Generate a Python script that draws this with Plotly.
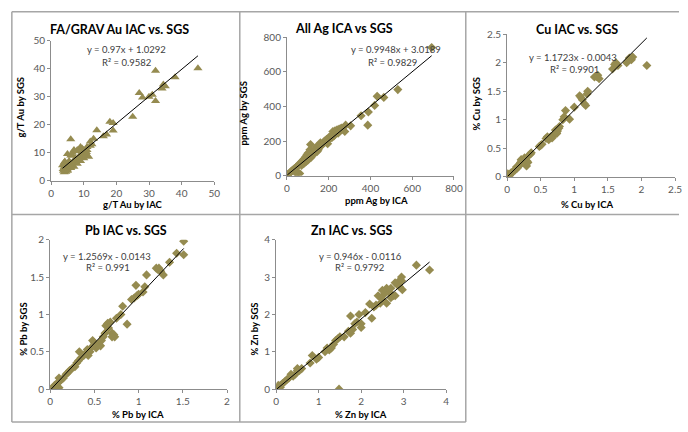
import plotly.graph_objects as go

W, H = 688, 432

# ---------------- data ----------------
au_x = [45, 38, 32, 32, 34, 34.4, 35, 31, 30, 27, 28, 25, 18, 19, 19, 16, 17, 14, 12, 13, 6,
        4, 4, 4, 3.8, 4.5, 5, 5, 5.5, 6, 6, 6.5, 7, 7, 7.5, 8, 8, 8.5, 9, 9, 9.5, 10, 10, 10.5,
        11, 11, 11.5, 10.8, 9.5, 8, 7, 6.5, 5.5, 4.5, 5, 3.7, 6, 7.5, 8.5, 9, 10, 11, 12, 12.5,
        4, 5, 6, 3.5, 4.2]
au_y = [40.2, 37, 39.3, 28.5, 33, 34.4, 33.8, 30.7, 30, 31.4, 29.8, 22.9, 21.1, 20.6, 17.9, 15.9,
        16.5, 18, 14, 15, 14.8,
        4, 5, 6.5, 3.5, 3.2, 4, 9.5, 5, 9, 6, 10, 7, 5, 8, 10.5, 6, 7.5, 12, 9, 10, 11, 8, 10,
        9, 12, 8.5, 10.2, 11.5, 11, 11, 9, 7, 4.5, 5.5, 4.2, 4.5, 6.5, 8.5, 7, 9, 11, 12.5, 13,
        3, 3.5, 5, 5.5, 6.8]

ag_x = [693, 531, 464, 432, 420, 390, 387, 355, 305, 281, 277, 250, 240, 230, 220, 260, 210, 200,
        180, 160, 150, 140, 113, 110, 100, 95, 90, 85, 80, 75, 70, 60, 55, 50, 45, 40, 35, 30, 25,
        20, 15, 10, 5, 2, 61, 50, 40, 130, 125, 115, 105, 170, 190, 195, 225, 235, 245, 255, 265,
        150, 110, 100, 90, 80, 70, 120, 135, 145, 165, 205, 215]
ag_y = [740, 497, 452, 458, 406, 368, 292, 346, 288, 292, 255, 270, 265, 260, 255, 275, 230, 220,
        200, 190, 170, 165, 180, 150, 130, 120, 110, 100, 95, 85, 80, 70, 60, 55, 50, 45, 40, 35, 30,
        25, 18, 12, 8, 3, 13, 15, 20, 140, 120, 105, 100, 180, 210, 185, 230, 250, 245, 260, 270,
        150, 130, 90, 80, 70, 60, 125, 150, 140, 175, 215, 220]

cu_x = [2.08, 1.87, 1.85, 1.8, 1.78, 1.82, 1.62, 1.6, 1.65, 1.57, 1.35, 1.3, 1.37, 1.33, 1.2, 1.19,
        1.1, 1.08, 1.12, 1.15, 1.17, 1.0, 0.93, 0.87, 0.85, 0.83, 0.78, 0.77, 0.75, 0.73, 0.7, 0.68,
        0.65, 0.63, 0.6, 0.62, 0.58, 0.67, 0.72, 0.74, 0.5, 0.48, 0.52, 0.35, 0.36, 0.33, 0.3, 0.29,
        0.31, 0.25, 0.22, 0.2, 0.18, 0.17, 0.15, 0.12, 0.1, 0.08, 0.05, 0.03, 0.02, 0.01, 0.04, 0.06,
        0.14, 0.19, 0.21, 0.26, 0.27]
cu_y = [1.95, 2.1, 2.05, 2.03, 2.0, 2.08, 2.0, 1.97, 1.95, 1.89, 1.78, 1.75, 1.72, 1.76, 1.5, 1.45,
        1.39, 1.42, 1.35, 1.28, 1.25, 1.22, 1.01, 1.16, 1.05, 1.0, 0.88, 0.85, 0.8, 0.78, 0.75, 0.72,
        0.7, 0.68, 0.7, 0.65, 0.67, 0.68, 0.82, 0.76, 0.55, 0.53, 0.57, 0.4, 0.42, 0.38, 0.27, 0.19,
        0.25, 0.3, 0.28, 0.25, 0.2, 0.18, 0.15, 0.12, 0.1, 0.08, 0.05, 0.03, 0.01, 0.05, 0.02, 0.07,
        0.17, 0.22, 0.3, 0.33, 0.3]

pb_x = [1.51, 1.51, 1.43, 1.35, 1.28, 1.23, 1.22, 1.25, 1.2, 1.09, 1.07, 1.05, 1.0, 0.98, 0.97,
        0.95, 0.92, 0.87, 0.82, 0.8, 0.75, 0.72, 0.73, 0.7, 0.68, 0.65, 0.63, 0.66, 0.6, 0.62, 0.58,
        0.55, 0.57, 0.52, 0.5, 0.48, 0.45, 0.43, 0.4, 0.38, 0.35, 0.33, 0.32, 0.3, 0.28, 0.25, 0.22,
        0.2, 0.18, 0.15, 0.12, 0.1, 0.1, 0.08, 0.05, 0.03, 0.01, 0.1, 0.06, 0.7, 0.53, 0.46, 0.42]
pb_y = [1.98, 1.8, 1.82, 1.7, 1.53, 1.62, 1.6, 1.58, 1.62, 1.53, 1.37, 1.3, 1.27, 1.25, 1.39,
        1.22, 1.2, 0.87, 1.11, 1.0, 0.95, 0.73, 0.7, 0.75, 0.9, 0.88, 0.85, 0.82, 0.7, 0.75, 0.65,
        0.6, 0.58, 0.55, 0.62, 0.65, 0.5, 0.45, 0.48, 0.45, 0.42, 0.5, 0.38, 0.35, 0.3, 0.28, 0.25,
        0.22, 0.2, 0.15, 0.12, 0.1, 0.15, 0.08, 0.05, 0.02, 0.0, 0.02, 0.04, 0.7, 0.58, 0.55, 0.53]

zn_x = [3.3, 3.61, 2.95, 2.97, 2.9, 2.85, 2.8, 2.75, 2.7, 2.65, 2.6, 2.55, 2.5, 2.45, 2.4, 2.35,
        2.3, 2.6, 2.5, 2.7, 2.8, 2.9, 2.95, 2.25, 2.2, 2.1, 2.0, 2.0, 1.95, 1.9, 1.85, 1.8, 1.75,
        1.75, 1.7, 1.6, 1.5, 1.45, 1.4, 1.35, 1.3, 1.25, 1.2, 1.15, 1.48, 1.0, 0.95, 0.85, 0.8, 0.6,
        0.5, 0.45, 0.4, 0.35, 0.3, 0.25, 0.2, 0.15, 0.1, 0.05, 0.02, 0.1, 0.05, 0.5, 0.55]
zn_y = [3.32, 3.19, 3.0, 2.66, 2.9, 2.8, 2.85, 2.5, 2.45, 2.6, 2.7, 2.55, 2.4, 2.3, 2.5, 2.25,
        2.2, 2.3, 2.65, 2.7, 2.5, 2.75, 2.9, 1.9, 2.28, 2.05, 1.75, 1.65, 2.0, 1.8, 1.75, 1.6, 1.96,
        1.5, 1.55, 1.4, 1.4, 1.35, 1.3, 1.2, 1.1, 1.05, 1.1, 1.0, 0.0, 0.85, 0.8, 0.9, 0.7, 0.55,
        0.5, 0.4, 0.35, 0.4, 0.3, 0.25, 0.2, 0.15, 0.1, 0.05, 0.02, 0.05, 0.1, 0.55, 0.5]

titles = ["FA/GRAV Au IAC vs. SGS", "All Ag ICA vs SGS", "Cu IAC vs. SGS", "Pb IAC vs. SGS", "Zn IAC vs. SGS"]
x_titles = ["g/T Au by IAC", "ppm Ag by ICA", "% Cu by ICA", "% Pb by ICA", "% Zn by ICA"]
y_titles = ["g/T Au by SGS", "ppm Ag by SGS", "% Cu by SGS", "% Pb by SGS", "% Zn by SGS"]
slopes = [0.97, 0.9948, 1.1723, 1.2569, 0.946]
intercepts = [1.0292, 3.0189, -0.0043, -0.0143, -0.0116]
eq_texts = ["y = 0.97x + 1.0292", "y = 0.9948x + 3.0189", "y = 1.1723x - 0.0043",
            "y = 1.2569x - 0.0143", "y = 0.946x - 0.0116"]
r2_texts = ["R² = 0.9582", "R² = 0.9829", "R² = 0.9901", "R² = 0.991", "R² = 0.9792"]
axis_max = [50, 800, 2.5, 2, 4]
axis_dtick = [10, 200, 0.5, 0.5, 1]
symbols = ["triangle-up", "diamond", "diamond", "diamond", "diamond"]

series = [(au_x, au_y), (ag_x, ag_y), (cu_x, cu_y), (pb_x, pb_y), (zn_x, zn_y)]

# ---------------- layout (pixel geometry) ----------------
boxes = [(49, 215, 35, 179), (289, 459, 31, 174), (513, 684, 28, 175),
         (48, 228, 240, 394), (278, 451, 240, 394)]
title_pos = [(119, 23), (347, 22), (584, 23), (125, 230), (355, 230)]
eq_pos = [(126, 44), (400, 44), (580, 52), (106, 257), (364, 257)]
r2_pos = [(126, 57), (396, 57), (582, 64), (107, 269), (363, 269)]
xt_pos = [(132, 204), (380, 199), (594, 204), (137, 420), (364, 420)]
yt_pos = [(18, 103), (245, 110), (482, 100), (20, 332), (255, 332)]

MARK = "#958b50"
FONT = "Lato"


def px(x):
    return x / W


def py(y):
    return 1 - y / H


fig = go.Figure()
annotations = []
for i, ((xs, ys), box) in enumerate(zip(series, boxes)):
    n = "" if i == 0 else str(i + 1)
    xa, ya = "x" + n, "y" + n
    fig.add_trace(go.Scatter(x=xs, y=ys, mode="markers", xaxis=xa, yaxis=ya,
                             marker=dict(symbol=symbols[i], size=7 if i else 8, color=MARK,
                                         line=dict(width=0)),
                             showlegend=False, hoverinfo="x+y"))
    x0, x1 = min(xs), max(xs)
    fig.add_trace(go.Scatter(x=[x0, x1], y=[slopes[i] * x0 + intercepts[i], slopes[i] * x1 + intercepts[i]],
                             mode="lines", xaxis=xa, yaxis=ya, line=dict(color="black", width=1),
                             showlegend=False, hoverinfo="skip"))
    l, r, t, b = box
    axcommon = dict(range=[0, axis_max[i]], dtick=axis_dtick[i], tick0=0, showgrid=False, zeroline=False,
                    showline=True, linecolor="#8c8c8c", linewidth=1, ticks="outside", ticklen=3,
                    tickcolor="#8c8c8c", tickfont=dict(family=FONT, size=10, color="#595959"),
                    fixedrange=True)
    fig.update_layout(**{
        ("xaxis" + n): dict(domain=[px(l), px(r)], anchor=ya, **axcommon),
        ("yaxis" + n): dict(domain=[py(b), py(t)], anchor=xa, **axcommon),
    })
    annotations.append(dict(text="<b>%s</b>" % titles[i], x=px(title_pos[i][0]), y=py(title_pos[i][1]),
                            xref="paper", yref="paper", showarrow=False, xanchor="center", yanchor="middle",
                            font=dict(family=FONT, size=12.5, color="black")))
    annotations.append(dict(text=eq_texts[i], x=px(eq_pos[i][0]), y=py(eq_pos[i][1]),
                            xref="paper", yref="paper", showarrow=False, xanchor="center", yanchor="middle",
                            font=dict(family=FONT, size=9.5, color="#404040")))
    annotations.append(dict(text=r2_texts[i], x=px(r2_pos[i][0]), y=py(r2_pos[i][1]),
                            xref="paper", yref="paper", showarrow=False, xanchor="center", yanchor="middle",
                            font=dict(family=FONT, size=9.5, color="#404040")))
    annotations.append(dict(text="<b>%s</b>" % x_titles[i], x=px(xt_pos[i][0]), y=py(xt_pos[i][1]),
                            xref="paper", yref="paper", showarrow=False, xanchor="center", yanchor="middle",
                            font=dict(family=FONT, size=9.5, color="black")))
    annotations.append(dict(text="<b>%s</b>" % y_titles[i], x=px(yt_pos[i][0]), y=py(yt_pos[i][1]),
                            xref="paper", yref="paper", showarrow=False, xanchor="center", yanchor="middle",
                            textangle=-90, font=dict(family=FONT, size=9.5, color="black")))

# cell borders
GRID = "#a6a6a6"
border_lines = [
    (9, 5, 688, 5), (9, 214, 688, 214), (9, 428, 471, 428),
    (9, 5, 9, 428), (241, 5, 241, 428), (471, 5, 471, 428),
]
shapes = [dict(type="line", xref="paper", yref="paper", x0=px(a), y0=py(b), x1=px(c), y1=py(d),
               line=dict(color=GRID, width=1.5)) for a, b, c, d in border_lines]

fig.update_layout(width=W, height=H, margin=dict(l=0, r=0, t=0, b=0), paper_bgcolor="white",
                  plot_bgcolor="white", annotations=annotations, shapes=shapes,
                  font=dict(family=FONT))

fig.write_html("out.html")
